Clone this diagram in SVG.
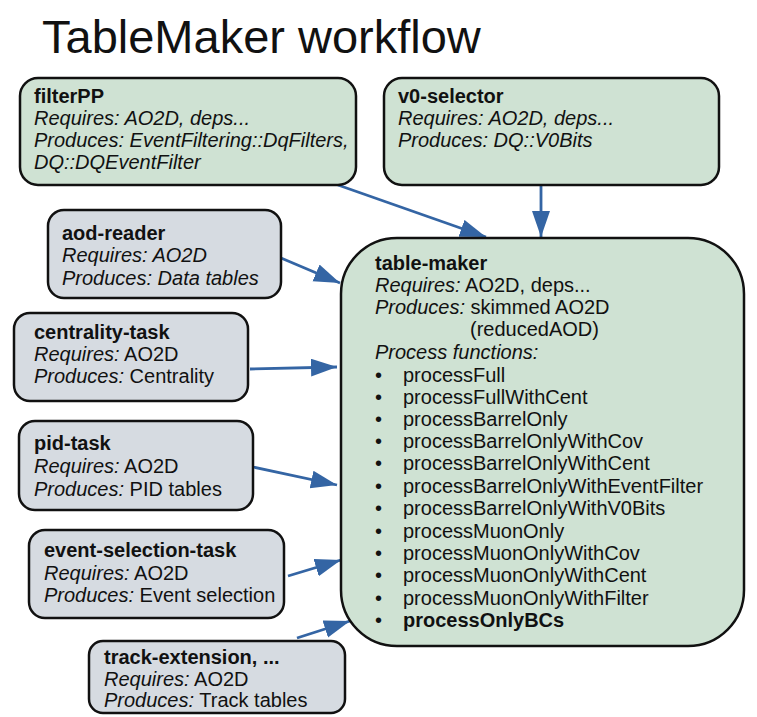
<svg xmlns="http://www.w3.org/2000/svg" width="757" height="717" viewBox="0 0 757 717">
<style>
text{font-family:"Liberation Sans",Arial,sans-serif;font-size:20px;fill:#111}
.title{font-size:47px}
.b{font-weight:bold}
.i{font-style:italic}
.g{fill:#cfe2d3;stroke:#111;stroke-width:2.5}
.s{fill:#d6dbe1;stroke:#111;stroke-width:2.5}
.c{stroke:#3465a4;stroke-width:2.8;fill:none;marker-end:url(#ah)}
</style>
<defs>
<marker id="ah" markerUnits="userSpaceOnUse" markerWidth="28" markerHeight="20" refX="26" refY="9" orient="auto">
<path d="M0,0 L26,9 L0,18 z" fill="#3465a4"/>
</marker>
</defs>
<rect width="757" height="717" fill="#fff"/>
<text class="title" x="42" y="53">TableMaker workflow</text>

<g id="connectors">
<line class="c" x1="338" y1="185" x2="486" y2="237"/>
<line class="c" x1="541" y1="186" x2="541" y2="237"/>
<line class="c" x1="281" y1="258" x2="340" y2="283"/>
<line class="c" x1="250" y1="369" x2="337" y2="367"/>
<line class="c" x1="253" y1="467" x2="337" y2="485"/>
<line class="c" x1="288" y1="576" x2="341" y2="560"/>
<line class="c" x1="297" y1="638" x2="350" y2="621"/>
</g>

<g id="filterPP">
<rect class="g" x="20" y="78" width="336" height="107" rx="18"/>
<text class="b" x="34" y="103">filterPP</text>
<text class="i" x="34" y="125">Requires: AO2D, deps...</text>
<text class="i" x="34" y="147">Produces: EventFiltering::DqFilters,</text>
<text class="i" x="34" y="169">DQ::DQEventFilter</text>
</g>

<g id="v0-selector">
<rect class="g" x="384" y="78" width="335" height="107" rx="18"/>
<text class="b" x="398" y="103">v0-selector</text>
<text class="i" x="398" y="125">Requires: AO2D, deps...</text>
<text class="i" x="398" y="147">Produces: DQ::V0Bits</text>
</g>

<g id="aod-reader">
<rect class="s" x="48" y="210" width="233" height="88" rx="16"/>
<text class="b" x="62" y="240">aod-reader</text>
<text class="i" x="62" y="262">Requires: AO2D</text>
<text class="i" x="62" y="285">Produces: Data tables</text>
</g>

<g id="centrality-task">
<rect class="s" x="14" y="313" width="234" height="88" rx="16"/>
<text class="b" x="34" y="339">centrality-task</text>
<text x="34" y="361"><tspan class="i">Requires:</tspan> AO2D</text>
<text x="34" y="383"><tspan class="i">Produces:</tspan> Centrality</text>
</g>

<g id="pid-task">
<rect class="s" x="19" y="421" width="234" height="89" rx="16"/>
<text class="b" x="34" y="450">pid-task</text>
<text x="34" y="473"><tspan class="i">Requires:</tspan> AO2D</text>
<text x="34" y="496"><tspan class="i">Produces:</tspan> PID tables</text>
</g>

<g id="event-selection-task">
<rect class="s" x="29" y="530" width="255" height="88" rx="16"/>
<text class="b" x="44" y="557">event-selection-task</text>
<text x="44" y="580"><tspan class="i">Requires:</tspan> AO2D</text>
<text x="44" y="602"><tspan class="i">Produces:</tspan> Event selection</text>
</g>

<g id="track-extension">
<rect class="s" x="89" y="641" width="256" height="72" rx="14"/>
<text class="b" x="104" y="664">track-extension, ...</text>
<text x="104" y="686"><tspan class="i">Requires:</tspan> AO2D</text>
<text x="104" y="707"><tspan class="i">Produces:</tspan> Track tables</text>
</g>

<g id="table-maker">
<rect class="g" x="341" y="238" width="403" height="408" rx="56"/>
<text class="b" x="375" y="270">table-maker</text>
<text x="375" y="292"><tspan class="i">Requires:</tspan> AO2D, deps...</text>
<text x="375" y="314"><tspan class="i">Produces:</tspan> skimmed AO2D</text>
<text x="470" y="336">(reducedAOD)</text>
<text class="i" x="375" y="359">Process functions:</text>
<g>
<text x="375" y="382">•</text><text x="403" y="382">processFull</text>
<text x="375" y="404">•</text><text x="403" y="404">processFullWithCent</text>
<text x="375" y="426">•</text><text x="403" y="426">processBarrelOnly</text>
<text x="375" y="448">•</text><text x="403" y="448">processBarrelOnlyWithCov</text>
<text x="375" y="470">•</text><text x="403" y="470">processBarrelOnlyWithCent</text>
<text x="375" y="493">•</text><text x="403" y="493">processBarrelOnlyWithEventFilter</text>
<text x="375" y="515">•</text><text x="403" y="515">processBarrelOnlyWithV0Bits</text>
<text x="375" y="538">•</text><text x="403" y="538">processMuonOnly</text>
<text x="375" y="560">•</text><text x="403" y="560">processMuonOnlyWithCov</text>
<text x="375" y="582">•</text><text x="403" y="582">processMuonOnlyWithCent</text>
<text x="375" y="605">•</text><text x="403" y="605">processMuonOnlyWithFilter</text>
<text x="375" y="627">•</text><text class="b" x="403" y="627">processOnlyBCs</text>
</g>
</g>
</svg>
